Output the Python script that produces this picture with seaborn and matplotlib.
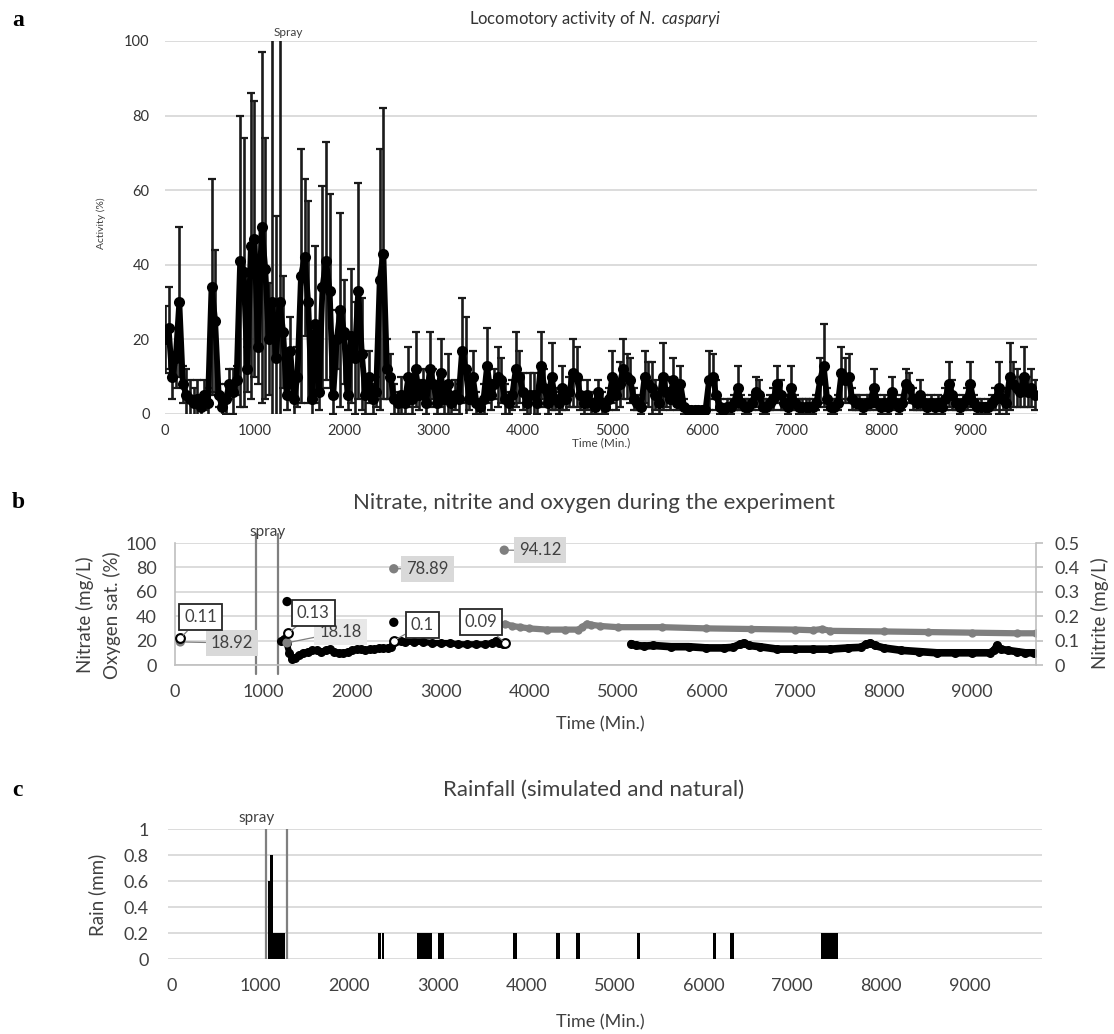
import numpy as np
import matplotlib
matplotlib.use("Agg")
import matplotlib.pyplot as plt
import seaborn as sns

# ---------------- data ----------------
# Panel a: locomotory activity (mean %, error %), sampled every 40 min
act_time = np.arange(0, 9721, 40)
act_mean = [
    20, 23, 10, 15, 30, 8, 5, 4, 3, 4, 2, 5, 3, 34, 25, 5, 2, 4, 8, 6, 9, 41, 38, 12, 45,
    47, 18, 50, 39, 20, 30, 15, 30, 22, 5, 17, 4, 10, 37, 42, 30, 4, 24, 6, 34, 41, 33, 5, 20, 28,
    22, 5, 21, 15, 33, 16, 5, 10, 4, 6, 36, 43, 12, 10, 4, 3, 5, 3, 10, 4, 12, 5, 8, 3, 12,
    8, 3, 11, 4, 8, 3, 5, 4, 17, 12, 4, 10, 3, 2, 4, 13, 5, 8, 10, 9, 4, 3, 5, 12, 10,
    6, 3, 5, 5, 3, 13, 7, 3, 10, 4, 3, 7, 4, 6, 11, 10, 5, 3, 5, 3, 2, 6, 3, 2, 4,
    10, 5, 8, 12, 10, 9, 4, 3, 2, 10, 8, 7, 5, 3, 10, 6, 4, 9, 3, 8, 2, 1, 1, 1, 1,
    1, 1, 9, 10, 5, 2, 1, 2, 2, 3, 7, 3, 2, 2, 3, 6, 5, 2, 2, 3, 4, 8, 5, 3, 2,
    7, 3, 2, 2, 2, 2, 2, 3, 9, 13, 4, 2, 2, 3, 11, 9, 10, 4, 3, 3, 2, 3, 3, 7, 3,
    2, 3, 2, 6, 3, 2, 3, 8, 7, 4, 3, 5, 3, 2, 3, 2, 3, 2, 4, 8, 5, 3, 2, 3, 4,
    8, 3, 2, 2, 2, 2, 3, 4, 7, 4, 3, 10, 8, 7, 6, 10, 6, 7, 5,
]
act_err = [
    9, 11, 6, 8, 20, 5, 7, 5, 4, 5, 3, 4, 4, 29, 19, 3, 3, 4, 4, 6, 4, 39, 36, 6, 41,
    37, 10, 47, 35, 15, 72, 38, 72, 15, 4, 9, 5, 8, 34, 21, 27, 5, 21, 5, 27, 32, 26, 5, 8, 26,
    14, 4, 18, 15, 29, 15, 5, 7, 4, 4, 35, 39, 8, 6, 4, 3, 5, 3, 8, 4, 10, 4, 4, 3, 10,
    4, 3, 9, 4, 8, 3, 4, 4, 14, 14, 3, 7, 3, 2, 4, 10, 4, 4, 8, 6, 4, 3, 4, 10, 7,
    5, 3, 6, 6, 3, 9, 5, 3, 9, 3, 3, 6, 3, 4, 9, 8, 4, 3, 4, 3, 2, 3, 3, 2, 3,
    7, 4, 6, 8, 6, 6, 3, 2, 2, 7, 6, 7, 4, 3, 9, 4, 3, 6, 2, 5, 2, 1, 1, 1, 1,
    1, 1, 8, 6, 4, 2, 1, 2, 2, 2, 6, 2, 2, 2, 2, 4, 4, 2, 2, 2, 3, 5, 4, 2, 2,
    6, 2, 2, 2, 2, 2, 2, 2, 6, 11, 3, 2, 2, 2, 7, 6, 6, 3, 2, 2, 2, 2, 2, 5, 2,
    2, 2, 2, 4, 2, 2, 2, 4, 4, 3, 2, 4, 2, 2, 2, 2, 2, 2, 3, 6, 4, 2, 2, 2, 3,
    6, 2, 2, 2, 1, 2, 2, 3, 7, 3, 3, 9, 6, 5, 4, 8, 4, 5, 4,
]

# Panel b: oxygen saturation (%) – continuous record (two segments)
oxy1_time = [1200, 1230, 1260, 1290, 1320, 1350, 1400, 1450, 1500, 1550, 1600, 1650, 1700,
             1750, 1800, 1850, 1900, 1950, 2000, 2050, 2100, 2150, 2200, 2250, 2300, 2350,
             2400, 2440, 2470, 2500, 2550, 2600, 2700, 2800, 2900, 3000, 3100, 3200, 3300,
             3400, 3500, 3580, 3620, 3660, 3700]
oxy1_val = [20, 21, 18, 10, 5, 6, 8, 10, 11, 12, 12, 11, 12, 13, 11, 10, 10, 11, 12, 13, 13,
            12, 13, 13, 14, 14, 14, 15, 19, 20, 20, 19, 19, 19, 18, 18, 18, 17, 17, 17, 17,
            18, 20, 18, 17]
oxy2_time = [5150, 5200, 5300, 5400, 5600, 5800, 6000, 6200, 6300, 6380, 6420, 6480, 6600,
             6800, 7000, 7200, 7400, 7600, 7750, 7800, 7850, 7900, 8000, 8200, 8400, 8600,
             8800, 9000, 9200, 9250, 9280, 9320, 9400, 9500, 9600, 9700]
oxy2_val = [17.5, 16, 15.5, 16, 15, 15, 14, 14, 14.5, 17, 18, 16, 15, 13, 13, 13, 13, 14,
            14.5, 17, 18, 16, 14, 12, 11, 10, 10, 10, 10, 12, 16, 13, 12, 11, 10, 10]
# Grey continuous record (left axis units)
grey_time = [3725, 3800, 3900, 4000, 4200, 4400, 4550, 4600, 4650, 4700, 4800, 5000, 5500,
             6000, 6500, 7000, 7200, 7300, 7400, 8000, 8500, 9000, 9500, 9720]
grey_val = [34, 32, 31, 30, 29, 29, 29, 31, 34, 33, 32, 31, 31, 30, 29.5, 29, 28.5, 29.5,
            28, 27.5, 27, 26.5, 26, 26]
# Discrete samples
nitrate_time = [60, 1265, 2470, 3717]
nitrate_val = [18.92, 18.18, 78.89, 94.12]
nitrite_time = [60, 1275, 2470, 3730]
nitrite_val = [0.11, 0.13, 0.10, 0.09]
oxy_spot_time = [1265, 2470]
oxy_spot_val = [52, 35]
spray_b = [916, 1167]

# Panel c: rainfall events (start, end in min; amount in mm)
rain_start = [1080, 1110, 1140, 2325, 2365, 2760, 3000, 3850, 4340, 4560, 5250, 6105, 6300, 7320]
rain_end = [1110, 1140, 1280, 2355, 2395, 2940, 3075, 3890, 4375, 4600, 5285, 6140, 6340, 7520]
rain_mm = [0.6, 0.8, 0.2, 0.2, 0.2, 0.2, 0.2, 0.2, 0.2, 0.2, 0.2, 0.2, 0.2, 0.2]
spray_c = [1060, 1300]

# ---------------- style ----------------
sns.set_theme(style="white")
plt.rcParams['font.family'] = ['Lato', 'DejaVu Sans']
plt.rcParams['mathtext.fontset'] = 'custom'
plt.rcParams['mathtext.rm'] = 'Lato'
plt.rcParams['mathtext.it'] = 'Lato:italic'

TXT = '#404040'
GRID = '#d9d9d9'
W, H = 1114, 1034
fig = plt.figure(figsize=(W / 100, H / 100), dpi=100)


def rect(l, t, r, b):
    return [l / W, 1 - b / H, (r - l) / W, (b - t) / H]


def fx(px):
    return px / W


def fy(py):
    return 1 - py / H


def clean(ax):
    for s in ax.spines.values():
        s.set_visible(False)
    ax.xaxis.grid(False)
    ax.yaxis.grid(True, color=GRID, lw=1.3)
    ax.set_axisbelow(True)
    ax.set_xlabel('')
    ax.set_ylabel('')


# ---------------- panel a ----------------
axa = fig.add_axes(rect(165, 41, 1037, 414))
axa.errorbar(act_time, act_mean, yerr=act_err, fmt='none', ecolor='#1a1a1a',
             elinewidth=1.9, capsize=3, capthick=1.6, zorder=2)
sns.lineplot(x=act_time, y=act_mean, ax=axa, color='black', lw=4.2, marker='o',
             markersize=8, markeredgewidth=0, zorder=3)
axa.set_xlim(0, 9745)
axa.set_ylim(0, 100)
axa.set_yticks(range(0, 101, 20))
axa.set_xticks(range(0, 9001, 1000))
clean(axa)
axa.tick_params(axis='both', length=0, labelsize=10.5, labelcolor='#333333')
axa.tick_params(axis='y', pad=11)
axa.tick_params(axis='x', pad=7)
fig.text(fx(595), fy(19), r'Locomotory activity of $\mathit{N.\ casparyi}$', ha='center',
         va='center', fontsize=12, color='#333333')
fig.text(fx(101), fy(223), 'Activity (%)', rotation=90, ha='center', va='center',
         fontsize=7.5, color=TXT)
fig.text(fx(601), fy(443), 'Time (Min.)', ha='center', va='center', fontsize=8.5, color=TXT)
axa.text(1380, 102.4, 'Spray', ha='center', va='center', fontsize=8.5, color=TXT, clip_on=False)

# ---------------- panel b ----------------
axb = fig.add_axes(rect(175, 543, 1036, 665))
axb2 = axb.twinx()
for x in spray_b:
    axb.axvline(x, ymin=-0.07, ymax=1.07, color='#7f7f7f', lw=1.6, clip_on=False, zorder=1)
sns.lineplot(x=oxy1_time, y=oxy1_val, ax=axb, color='black', lw=4.5, marker='o',
             markersize=6.5, markeredgewidth=0, zorder=3)
sns.lineplot(x=oxy2_time, y=oxy2_val, ax=axb, color='black', lw=5.5, marker='o',
             markersize=6.5, markeredgewidth=0, zorder=3)
sns.lineplot(x=grey_time, y=grey_val, ax=axb, color='#7f7f7f', lw=4.5, marker='o',
             markersize=6, markeredgewidth=0, zorder=3)
sns.scatterplot(x=nitrate_time, y=nitrate_val, ax=axb, color='#7f7f7f', s=45,
                edgecolor='none', zorder=4)
sns.scatterplot(x=oxy_spot_time, y=oxy_spot_val, ax=axb, color='black', s=45,
                edgecolor='none', zorder=4)
sns.scatterplot(x=nitrite_time, y=nitrite_val, ax=axb2, facecolor='white',
                edgecolor='black', linewidth=1.5, s=40, zorder=5)
axb.set_xlim(0, 9720)
axb.set_ylim(0, 100)
axb2.set_ylim(0, 0.5)
axb.set_yticks(range(0, 101, 20))
axb2.set_yticks([0, 0.1, 0.2, 0.3, 0.4, 0.5])
axb2.set_yticklabels(['0', '0.1', '0.2', '0.3', '0.4', '0.5'])
axb.set_xticks(range(0, 9001, 1000))
clean(axb)
axb2.grid(False)
for s in axb2.spines.values():
    s.set_visible(False)
axb2.set_ylabel('')
for side in ('left', 'bottom'):
    axb.spines[side].set_visible(True)
    axb.spines[side].set_color('#bfbfbf')
    axb.spines[side].set_linewidth(1.2)
axb2.spines['right'].set_visible(True)
axb2.spines['right'].set_color('#bfbfbf')
axb2.spines['right'].set_linewidth(1.2)
axb.tick_params(axis='both', length=0, labelsize=13, labelcolor=TXT)
axb.tick_params(axis='y', pad=13)
axb.tick_params(axis='x', pad=14)
axb2.tick_params(axis='y', length=5, width=1.2, color='#bfbfbf', direction='out',
                 labelsize=13, labelcolor=TXT, pad=8)

white_box = dict(boxstyle='square,pad=0.3', fc='white', ec='#262626', lw=1.3)
grey_box = dict(boxstyle='square,pad=0.3', fc='#d9d9d9', ec='none')
lead = dict(arrowstyle='-', color='#7f7f7f', lw=0.9, shrinkA=0, shrinkB=3)
lbl_b = dict(fontsize=12, color=TXT, ha='center', va='center', zorder=6)
# nitrite labels (right axis units)
for (t, v), pos in zip(zip(nitrite_time, nitrite_val),
                       [(290, 0.195), (1560, 0.215), (2790, 0.165), (3455, 0.175)]):
    axb2.annotate(f'{v:g}', xy=(t, v), xytext=pos, bbox=white_box, arrowprops=lead, **lbl_b)
# nitrate labels (left axis units)
for (t, v), pos, fc in zip(zip(nitrate_time, nitrate_val),
                           [(640, 18), (1870, 27), (2850, 79), (4120, 94)],
                           ['#d9d9d9', '#e8e8e8', '#d9d9d9', '#d9d9d9']):
    bb = dict(grey_box, fc=fc)
    axb.annotate(f'{v:.2f}', xy=(t, v), xytext=pos, bbox=bb, arrowprops=lead, **lbl_b)

fig.text(fx(594), fy(503), 'Nitrate, nitrite and oxygen during the experiment',
         ha='center', va='center', fontsize=16, color=TXT)
fig.text(fx(85), fy(615), 'Nitrate (mg/L)', rotation=90, ha='center', va='center',
         fontsize=13.5, color=TXT)
fig.text(fx(112), fy(615), 'Oxygen sat. (%)', rotation=90, ha='center', va='center',
         fontsize=13.5, color=TXT)
fig.text(fx(1100), fy(613), 'Nitrite (mg/L)', rotation=90, ha='center', va='center',
         fontsize=13.5, color=TXT)
fig.text(fx(600), fy(724), 'Time (Min.)', ha='center', va='center', fontsize=13, color=TXT)
axb.text(1040, 103, 'spray', ha='center', va='bottom', fontsize=11, color=TXT, clip_on=False)

# ---------------- panel c ----------------
axc = fig.add_axes(rect(168, 829, 1042, 959))
axc.bar(rain_start, rain_mm, width=np.array(rain_end) - np.array(rain_start), align='edge',
        color='black', edgecolor='none', zorder=3)
for x in spray_c:
    axc.axvline(x, ymin=-0.01, ymax=1.0, color='#7f7f7f', lw=1.6, zorder=2)
axc.set_xlim(-45, 9820)
axc.set_ylim(0, 1)
axc.set_yticks([0, 0.2, 0.4, 0.6, 0.8, 1])
axc.set_yticklabels(['0', '0.2', '0.4', '0.6', '0.8', '1'])
axc.set_xticks(range(0, 9001, 1000))
clean(axc)
axc.tick_params(axis='both', length=0, labelsize=13, labelcolor=TXT)
axc.tick_params(axis='y', pad=14)
axc.tick_params(axis='x', pad=14)
fig.text(fx(594), fy(790), 'Rainfall (simulated and natural)', ha='center', va='center',
         fontsize=16, color=TXT)
fig.text(fx(97), fy(895), 'Rain (mm)', rotation=90, ha='center', va='center',
         fontsize=13.5, color=TXT)
fig.text(fx(600), fy(1022), 'Time (Min.)', ha='center', va='center', fontsize=13, color=TXT)
axc.text(960, 1.03, 'spray', ha='center', va='bottom', fontsize=11, color=TXT, clip_on=False)

# panel letters
for letter, py in (('a', 20), ('b', 503), ('c', 790)):
    fig.text(fx(12), fy(py), letter, ha='left', va='center', fontsize=17, fontweight='bold',
             family='Liberation Serif', color='black')

fig.savefig('out.png', dpi=100)
